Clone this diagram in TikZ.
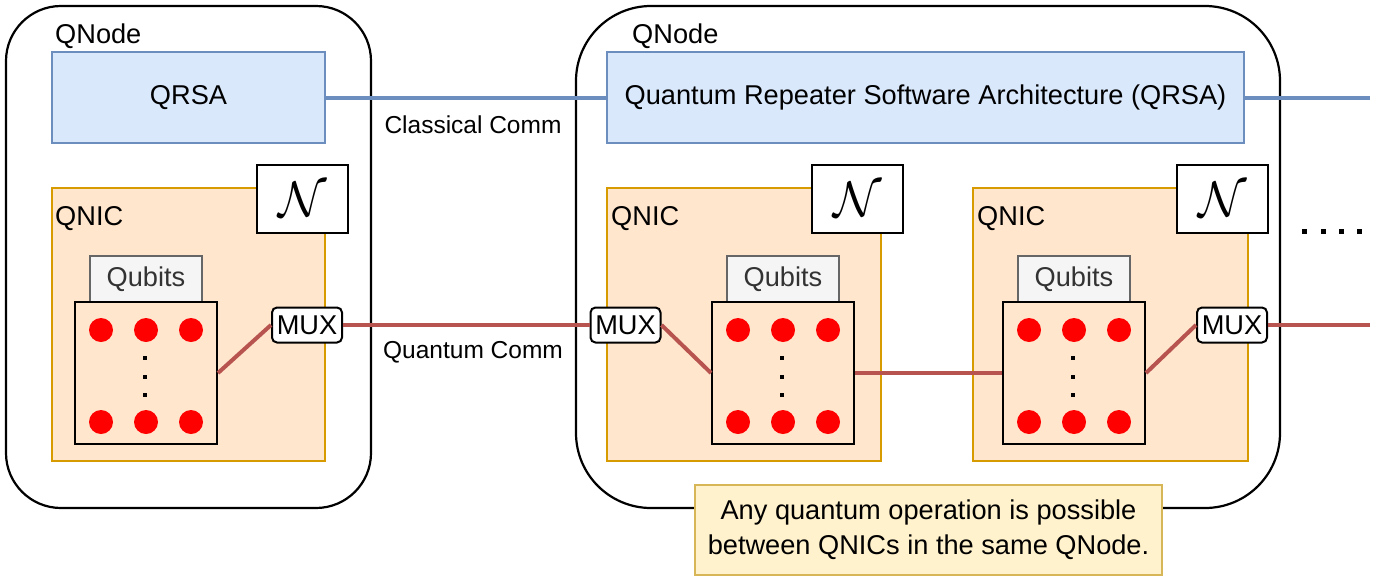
\documentclass[tikz,border=0pt]{standalone}
\usepackage{fontspec}
\setmainfont{Liberation Sans}
\usepackage{graphicx}
\definecolor{bluefill}{HTML}{DAE8FC}
\definecolor{bluestroke}{HTML}{6C8EBF}
\definecolor{orfill}{HTML}{FFE6CC}
\definecolor{orstroke}{HTML}{D79B00}
\definecolor{grfill}{HTML}{F5F5F5}
\definecolor{grstroke}{HTML}{666666}
\definecolor{grtext}{HTML}{333333}
\definecolor{redline}{HTML}{B85450}
\definecolor{notefill}{HTML}{FFF2CC}
\definecolor{notestroke}{HTML}{D6B656}
\definecolor{qred}{HTML}{FF0000}
\tikzset{
  txt/.style={font=\fontsize{27.2}{35}\selectfont},
  qnode/.style={draw=black, line width=2.2pt, fill=white, inner sep=0pt},
  qrsa/.style={draw=bluestroke, line width=2.2pt, fill=bluefill, inner sep=0pt, minimum height=91pt, txt},
  qnic/.style={draw=orstroke, line width=2pt, fill=orfill, inner sep=0pt, minimum width=274pt, minimum height=273pt},
  nbox/.style={draw=black, line width=2pt, fill=white, inner sep=0pt, minimum width=91pt, minimum height=68pt},
  qlabel/.style={draw=grstroke, line width=2pt, fill=grfill, text=grtext, inner sep=0pt, minimum width=112pt, minimum height=46pt, txt},
  qbox/.style={draw=black, line width=2pt, inner sep=0pt, minimum width=142pt, minimum height=142pt},
  mux/.style={draw=black, line width=2pt, fill=white, rounded corners=5pt, inner sep=0pt, minimum width=70pt, minimum height=35pt, txt},
  qubit/.style={circle, fill=qred, inner sep=0pt, minimum size=24pt},
  sdot/.style={fill=black, inner sep=0pt, minimum size=4pt},
  cline/.style={draw=bluestroke, line width=4pt},
  qline/.style={draw=redline, line width=4pt},
  note/.style={draw=notestroke, line width=2pt, fill=notefill, inner sep=0pt, minimum width=467pt, minimum height=90pt, align=center, txt},
  lbl/.style={txt, inner sep=0pt, anchor=west},
  commlbl/.style={font=\fontsize{24.5}{28}\selectfont, inner sep=0pt}
}
\newcommand{\Nsym}{\scalebox{5}{$\mathcal{N}$}}
\begin{document}
\begin{tikzpicture}[x=1pt,y=-1pt]
\useasboundingbox (0,0) rectangle (1379,576);
% QNodes
\node[qnode, rounded corners=55pt, minimum width=365pt, minimum height=502pt] (qnL) at (188.5,257) {};
\node[qnode, rounded corners=75pt, minimum width=704pt, minimum height=502pt] (qnR) at (928,257) {};
\node[lbl] (qnLlbl) at (55,36) {QNode};
\node[lbl] (qnRlbl) at (632,36) {QNode};
% QRSA
\node[qrsa, minimum width=273pt] (qrsaL) at (188.5,97.5) {QRSA};
\node[qrsa, minimum width=637pt] (qrsaR) at (925.5,97.5) {Quantum Repeater Software Architecture (QRSA)};
\coordinate (cend) at (1370,97.5);
\draw[cline] (qrsaL.east) -- (qrsaR.west);
\draw[cline] (qrsaR.east) -- (cend);
\node[commlbl] (clbl) at (473,125) {Classical Comm};
% QNICs
\node[qnic, minimum width=273pt] (qnicL) at (188.5,324.5) {};
\node[qnic] (qnic1) at (744,324.5) {};
\node[qnic, minimum width=275pt] (qnic2) at (1110.5,324.5) {};
\node[lbl] (qnicLl) at (55,219) {QNIC};
\node[lbl] (qnic1l) at (611,219) {QNIC};
\node[lbl] (qnic2l) at (977,219) {QNIC};
% N boxes
\node[nbox] (nL) at (302.5,199) {\Nsym};
\node[nbox] (n1) at (857.5,199) {\Nsym};
\node[nbox] (n2) at (1222.5,199) {\Nsym};
% Qubits
\foreach \nm/\cx in {L/146, 1/783, 2/1074} {
  \node[qlabel] (ql\nm) at (\cx,279) {Qubits};
  \node[qbox] (qb\nm) at (\cx,373) {};
  \foreach \dx [count=\i] in {-45,0,45} {
    \node[qubit] (qt\nm\i) at (\cx+\dx,330) {};
    \node[qubit] (qd\nm\i) at (\cx+\dx,422) {};
  }
  \foreach \yy [count=\j] in {358,377,395} {
    \node[sdot] (sd\nm\j) at (\cx-1.5,\yy) {};
  }
}
% MUX
\node[mux] (muxL) at (307,325) {MUX};
\node[mux] (mux1) at (625.5,325) {MUX};
\node[mux] (mux2) at (1232,325) {MUX};
\coordinate (qend) at (1370,325);
\draw[qline] (qbL.east) -- (muxL.west);
\draw[qline] (muxL.east) -- (mux1.west);
\draw[qline] (mux1.east) -- (qb1.west);
\draw[qline] (qb1.east) -- (qb2.west);
\draw[qline] (qb2.east) -- (mux2.west);
\draw[qline] (mux2.east) -- (qend);
\node[commlbl] (qlbl) at (473,352) {Quantum Comm};
% ellipsis dots
\foreach \xx [count=\k] in {1304,1323,1341,1359} {
  \node[sdot, minimum size=5pt] (ell\k) at (\xx,231) {};
}
% note
\node[note] (note) at (928.5,530) {Any quantum operation is possible\\between QNICs in the same QNode.};
\end{tikzpicture}
\end{document}
